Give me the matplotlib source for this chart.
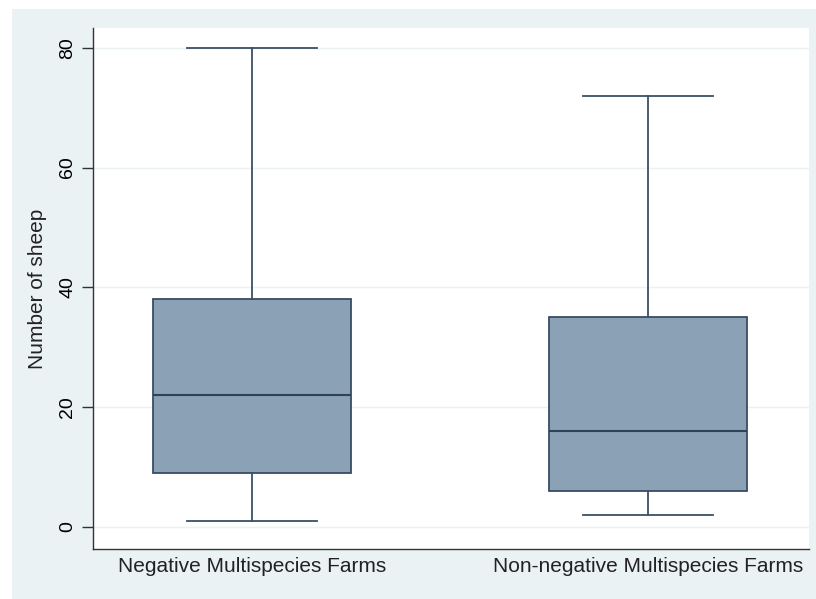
import matplotlib
matplotlib.use('Agg')
import matplotlib.pyplot as plt

# box summary values
groups = ['Negative Multispecies Farms', 'Non-negative Multispecies Farms']
whislo = [1, 2]
q1 = [9, 6]
med = [22, 16]
q3 = [38, 35]
whishi = [80, 72]
yticks = [0, 20, 40, 60, 80]

plt.rcParams['font.family'] = ['Liberation Sans', 'DejaVu Sans']

fig = plt.figure(figsize=(8.16, 5.99), dpi=100, facecolor='white')
# light stata-like background panel behind the plot
bg = fig.add_axes([12 / 816, 0, 1 - 12 / 816, 1 - 9 / 599])
bg.set_facecolor('#EAF2F3')
bg.set_xticks([])
bg.set_yticks([])
for s in bg.spines.values():
    s.set_visible(False)

ax = fig.add_axes([93 / 816, 50 / 599, 716 / 816, 521 / 599])
ax.set_facecolor('white')

stats = []
for i in range(len(groups)):
    stats.append({'whislo': whislo[i], 'q1': q1[i], 'med': med[i], 'q3': q3[i],
                  'whishi': whishi[i], 'fliers': [], 'label': groups[i]})

line_col = '#3B4F66'
ax.bxp(stats, positions=[1, 2], widths=0.5, patch_artist=True, showfliers=False,
       boxprops=dict(facecolor='#8AA1B6', edgecolor='#3A4C62', linewidth=1.3),
       medianprops=dict(color='#2E4258', linewidth=1.5),
       whiskerprops=dict(color=line_col, linewidth=1.3),
       capprops=dict(color=line_col, linewidth=1.3),
       capwidths=0.33, zorder=3)

ax.set_xlim(0.5985, 2.4066)
ax.set_ylim(-3.7, 83.3)
ax.set_yticks(yticks)
ax.set_yticklabels([str(t) for t in yticks], rotation=90, va='center', fontsize=14)
ax.tick_params(axis='y', length=8, width=1, color='#333333', pad=4)
ax.tick_params(axis='x', length=0, pad=6, labelsize=15)
ax.set_xticks([1, 2])
ax.set_xticklabels(groups, color='#222222')
ax.grid(axis='y', color='#EAF2F3', linewidth=1)
ax.set_axisbelow(True)

for s in ['top', 'right']:
    ax.spines[s].set_visible(False)
for s in ['left', 'bottom']:
    ax.spines[s].set_color('#333333')
    ax.spines[s].set_linewidth(1)

ax.set_ylabel('Number of sheep', fontsize=15, labelpad=9, color='#222222')

fig.savefig('out.png', dpi=100, facecolor=fig.get_facecolor())
